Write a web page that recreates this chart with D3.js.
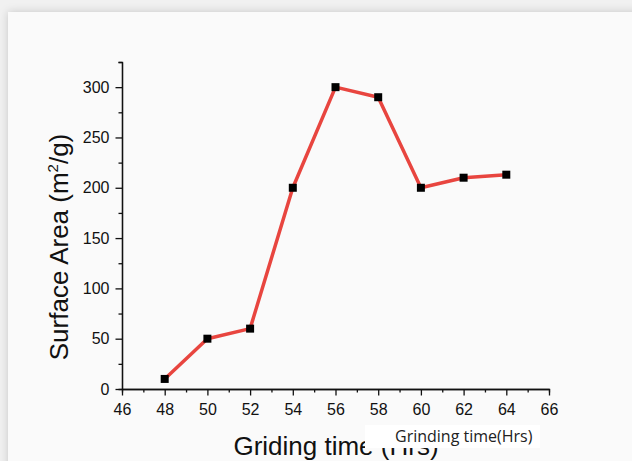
<!DOCTYPE html>
<html>
<head>
<meta charset="utf-8">
<script src="https://cdn.jsdelivr.net/npm/d3@7.9.0/dist/d3.min.js"></script>
<style>
  body { margin: 0; background: #e9e9e9; }
  svg { display: block; font-family: "Liberation Sans", Arial, sans-serif; }
</style>
</head>
<body>
<svg id="chart" width="632" height="461"></svg>
<script>
const hours = [48, 50, 52, 54, 56, 58, 60, 62, 64];
const area = [10, 50, 60, 200, 300, 290, 200, 210, 213];
const xTicks = [46, 48, 50, 52, 54, 56, 58, 60, 62, 64, 66];
const yTicks = [0, 50, 100, 150, 200, 250, 300];

const svg = d3.select('#chart');

// card background with soft shadow
const defs = svg.append('defs');
const f = defs.append('filter').attr('id', 'shadow').attr('x', -0.1).attr('y', -0.1).attr('width', 1.2).attr('height', 1.2);
f.append('feDropShadow').attr('dx', 0).attr('dy', 0).attr('stdDeviation', 4).attr('flood-color', '#000').attr('flood-opacity', 0.18);
svg.append('rect').attr('width', 632).attr('height', 461).attr('fill', '#f1f1f1');
svg.append('rect').attr('x', 8).attr('y', 12).attr('width', 640).attr('height', 470)
   .attr('fill', '#fafafa').attr('filter', 'url(#shadow)');

const x = d3.scaleLinear().domain([46, 66]).range([122, 549]);
const y = d3.scaleLinear().domain([0, 325]).range([389, 62]);

// minor ticks
const xAxisMinor = d3.axisBottom(x).tickValues(d3.range(47, 66, 2)).tickSize(3.5).tickFormat('');
const yAxisMinor = d3.axisLeft(y).tickValues(d3.range(25, 326, 50)).tickSize(3.5).tickFormat('');

svg.append('g').attr('transform', 'translate(0,389)').call(xAxisMinor);
svg.append('g').attr('transform', 'translate(122,0)').call(yAxisMinor);

svg.append('g').attr('transform', 'translate(0,389)')
  .call(d3.axisBottom(x).tickValues(xTicks).tickSize(6.5).tickSizeOuter(0).tickPadding(8));
svg.append('g').attr('transform', 'translate(122,0)')
  .call(d3.axisLeft(y).tickValues(yTicks).tickSize(6.5).tickSizeOuter(0).tickPadding(6));

svg.selectAll('.domain, .tick line').attr('stroke', '#111').attr('stroke-width', 1.3);
svg.selectAll('.tick text').attr('fill', '#111').style('font-size', '16px')
   .style('font-family', '"Liberation Sans", Arial, sans-serif');

// line
const line = d3.line().x((d, i) => x(hours[i])).y(d => y(d));
svg.append('path').datum(area).attr('d', line)
   .attr('fill', 'none').attr('stroke', '#e8453f').attr('stroke-width', 3.5)
   .attr('stroke-linejoin', 'round');

svg.selectAll('.pt').data(area).join('rect')
   .attr('x', (d, i) => x(hours[i]) - 4).attr('y', d => y(d) - 4)
   .attr('width', 8).attr('height', 8).attr('fill', '#000');

// y title
const yt = svg.append('text')
   .attr('transform', 'translate(68,247) rotate(-90)')
   .attr('text-anchor', 'middle').attr('fill', '#111').style('font-size', '26px');
yt.append('tspan').text('Surface Area (m');
yt.append('tspan').attr('dy', -10).style('font-size', '15px').text('2');
yt.append('tspan').attr('dy', 10).text('/g)');

// x title
svg.append('text').attr('x', 336).attr('y', 455).attr('text-anchor', 'middle')
   .attr('fill', '#111').style('font-size', '26px').text('Griding time (Hrs)');

// pasted overlay label
svg.append('rect').attr('x', 365).attr('y', 425).attr('width', 175).attr('height', 23).attr('fill', '#fff');
svg.append('text').attr('x', 395).attr('y', 442)
   .attr('fill', '#222').style('font-family', '"Open Sans", sans-serif').style('font-size', '16px')
   .text('Grinding time(Hrs)');
</script>
</body>
</html>
